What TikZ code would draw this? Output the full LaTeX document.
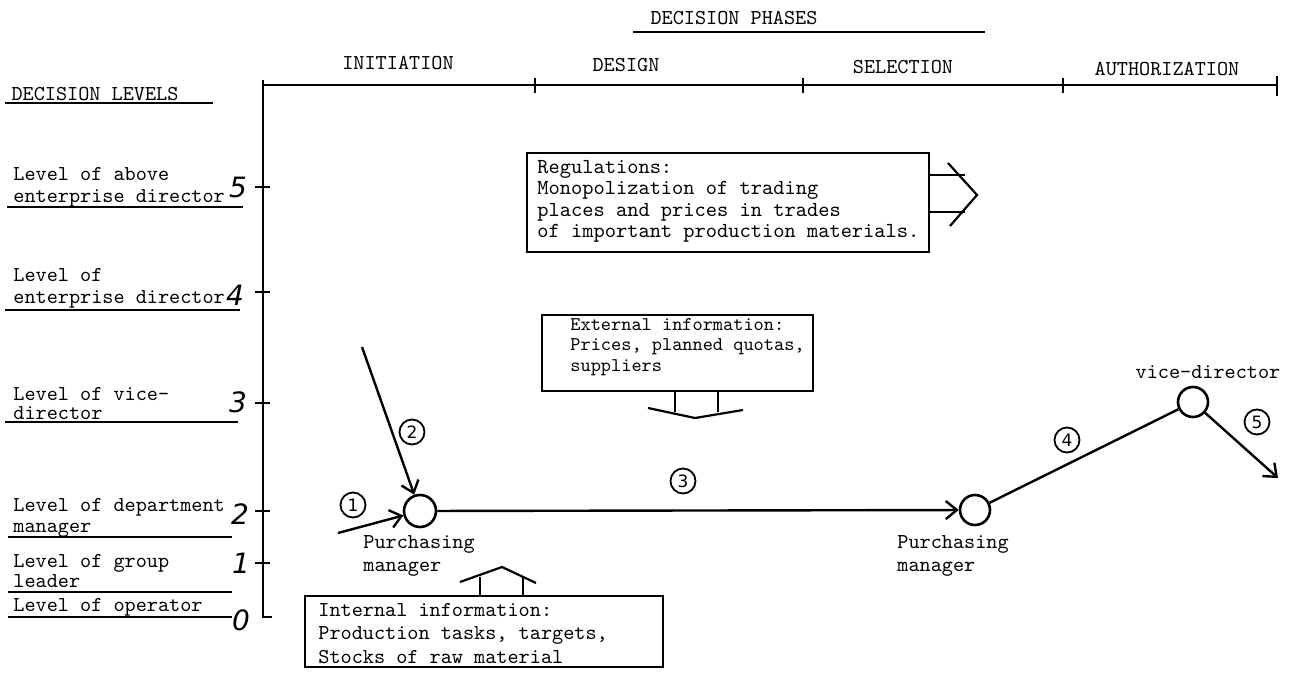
\documentclass[tikz,border=0pt]{standalone}
\usepackage{fontspec}
\newfontfamily\handfont{DejaVu Sans}
\usetikzlibrary{arrows.meta}

\begin{document}
\begin{tikzpicture}[x=0.5pt,y=-0.5pt,
  tw/.style={font=\ttfamily\fontsize{10.6}{10.6}\selectfont, inner sep=0pt},
  lvl/.style={inner sep=0pt, anchor=north west, align=left,
    font=\ttfamily\fontsize{10.6}{#1}\selectfont},
  axis/.style={line width=1.4pt},
  rule/.style={line width=1.1pt},
  frame/.style={draw, line width=1.1pt, inner sep=0pt, anchor=north west},
  person/.style={circle, draw, line width=1.3pt, minimum size=15pt, inner sep=0pt},
  flow/.style={line width=1.2pt, -{Straight Barb[length=5.5pt,width=9pt,line width=1.2pt]}},
  link/.style={line width=1.2pt},
  stepno/.style={circle, draw, line width=0.9pt, minimum size=12.5pt, inner sep=0pt,
    font=\handfont\fontsize{8.5}{8.5}\selectfont},
  levelno/.style={font=\handfont\itshape\fontsize{14}{14}\selectfont, inner sep=0pt},
]
\useasboundingbox (0,0) rectangle (1290,674);

% ---- headings
\node[tw] (phases) at (734,18) {DECISION PHASES};
\draw[rule] (633,32) -- (985,32);
\node[tw] (levels) at (95,94) {DECISION LEVELS};
\draw[rule] (5,103) -- (213,103);

% ---- phase axis
\draw[axis] (263,80) -- (263,617) -- (272,617);
\draw[axis] (263,85) -- (1277,85);
\foreach \px in {535,803,1063} \draw[axis] (\px,78) -- (\px,93);
\draw[axis] (1277,76) -- (1277,96);
\node[tw] (initiation) at (398,63) {INITIATION};
\node[tw] (design) at (626,65) {DESIGN};
\node[tw] (selection) at (903,67) {SELECTION};
\node[tw] (authorization) at (1167,69) {AUTHORIZATION};

% ---- decision levels
\node[lvl=11pt] (l5) at (13,167) {Level of above\\enterprise director};
\draw[rule] (7,207) -- (243,207);
\node[levelno] (n5) at (238,187) {5};
\draw[axis] (255,187) -- (270,187);

\node[lvl=11pt] (l4) at (13,268) {Level of\\enterprise director};
\draw[rule] (5,310) -- (240,310);
\node[levelno] (n4) at (235,295) {4};
\draw[axis] (255,292) -- (270,292);

\node[lvl=9.5pt] (l3) at (13,387) {Level of vice-\\director};
\draw[rule] (5,422) -- (238,422);
\node[levelno] (n3) at (238,402) {3};
\draw[axis] (255,403) -- (270,403);

\node[lvl=10.5pt] (l2) at (13,498) {Level of department\\manager};
\draw[rule] (8,537) -- (232,537);
\node[levelno] (n2) at (240,514) {2};
\draw[axis] (255,511) -- (270,511);

\node[lvl=10pt] (l1) at (13,554) {Level of group\\leader};
\draw[rule] (8,592) -- (232,592);
\node[levelno] (n1) at (241,563) {1};
\draw[axis] (255,563) -- (270,563);

\node[lvl=10pt] (l0) at (13,598) {Level of operator};
\draw[rule] (8,617) -- (232,617);
\node[levelno] (n0) at (241,620) {0};

% ---- regulations box with its arrow to the right
\node[frame, minimum width=201pt, minimum height=49.5pt] (reg) at (526,152) {};
\node[tw, font=\ttfamily\fontsize{10.7}{10.65}\selectfont, anchor=north west, align=left] (reg-t) at (537,160)
  {Regulations:\\Monopolization of trading\\places and prices in trades\\of important production materials.};
\draw[rule] (928,175) -- (965,175);
\draw[rule] (928,212) -- (965,212);
\draw[rule] (948,163) -- (977,195) -- (950,226);

% ---- external information box with its arrow downwards
\node[frame, minimum width=135.5pt, minimum height=38pt] (ext) at (541,314) {};
\node[tw, font=\ttfamily\fontsize{9.7}{10.3}\selectfont, anchor=north west, align=left] (ext-t) at (570,318)
  {External information:\\Prices, planned quotas,\\suppliers};
\draw[rule] (675,390) -- (675,412);
\draw[rule] (718,390) -- (718,412);
\draw[rule] (648,408) -- (695,418) -- (743,410);

% ---- internal information box with its arrow upwards
\node[frame, minimum width=179pt, minimum height=35.5pt] (int) at (304,595) {};
\node[tw, font=\ttfamily\fontsize{10.6}{11.7}\selectfont, anchor=north west, align=left] (int-t) at (318,603)
  {Internal information:\\Production tasks, targets,\\Stocks of raw material};
\draw[rule] (480,595) -- (480,577);
\draw[rule] (523,595) -- (523,577);
\draw[rule] (460,582) -- (502,567) -- (536,583);

% ---- decision makers
\node[person, minimum size=16pt] (pm1) at (420,511) {};
\node[person] (pm2) at (975,510) {};
\node[person] (vd) at (1193,402) {};
\node[tw, font=\ttfamily\fontsize{10.6}{11.5}\selectfont, anchor=north west, align=left] (pm1-t) at (363,535)
  {Purchasing\\manager};
\node[tw, font=\ttfamily\fontsize{10.6}{11.5}\selectfont, anchor=north west, align=left] (pm2-t) at (897,535)
  {Purchasing\\manager};
\node[tw] (vd-t) at (1208,372) {vice-director};

% ---- flow of the decision
\coordinate (s1) at (338,533);
\coordinate (s2) at (362,347);
\coordinate (e5) at (1278,478);
\draw[flow] (s1) -- (pm1);
\draw[flow] (s2) -- (pm1);
\draw[flow] (pm1) -- (pm2);
\draw[link] (pm2) -- (vd);
\draw[flow] (vd) -- (e5);

\node[stepno] (st1) at (353,505) {1};
\node[stepno] (st2) at (412,432) {2};
\node[stepno] (st3) at (683,481) {3};
\node[stepno] (st4) at (1067,440) {4};
\node[stepno] (st5) at (1257,422) {5};
\end{tikzpicture}
\end{document}
